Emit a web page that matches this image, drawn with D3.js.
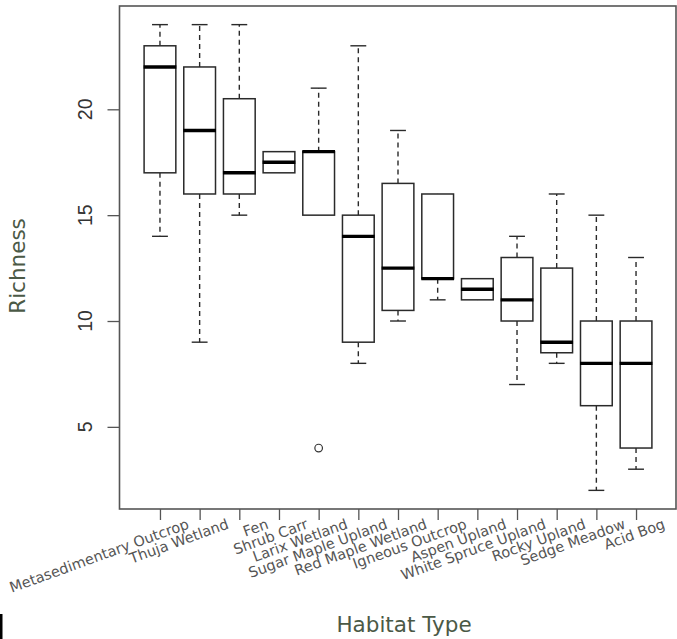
<!DOCTYPE html>
<html>
<head>
<meta charset="utf-8">
<script src="https://d3js.org/d3.v7.min.js"></script>
<style>
  html, body { margin: 0; padding: 0; background: #fff; }
  svg { display: block; }
</style>
</head>
<body>
<svg id="chart" width="677" height="639"></svg>
<script>
// ---- data ----
const categories = ["Metasedimentary Outcrop", "Thuja Wetland", "Fen", "Shrub Carr", "Larix Wetland",
  "Sugar Maple Upland", "Red Maple Wetland", "Igneous Outcrop", "Aspen Upland",
  "White Spruce Upland", "Rocky Upland", "Sedge Meadow", "Acid Bog"];
const whiskerLow  = [14, 9, 15, 17, 15, 8, 10, 11, 11, 7, 8, 2, 3];
const q1          = [17, 16, 16, 17, 15, 9, 10.5, 12, 11, 10, 8.5, 6, 4];
const medians     = [22, 19, 17, 17.5, 18, 14, 12.5, 12, 11.5, 11, 9, 8, 8];
const q3          = [23, 22, 20.5, 18, 18, 15, 16.5, 16, 12, 13, 12.5, 10, 10];
const whiskerHigh = [24, 24, 24, 18, 21, 23, 19, 16, 12, 14, 16, 15, 13];
const outliers    = [[], [], [], [], [4], [], [], [], [], [], [], [], []];
const yTicks = [5, 10, 15, 20];
const xTitle = "Habitat Type";
const yTitle = "Richness";

// ---- layout ----
const svg = d3.select("#chart");
const pLeft = 119.5, pRight = 676, pTop = 6, pBottom = 509;
const x = d3.scaleLinear().domain([-0.02, 14.02]).range([pLeft, 676.5]);
const y = d3.scaleLinear().domain([1.12, 24.88]).range([pBottom, pTop]);
const unit = x(2) - x(1);
const boxW = unit * 0.8;
const stapleW = boxW * 0.5;
const titleColor = "#4b5946";

const rows = categories.map((c, i) => ({
  name: c, pos: i + 1, lo: whiskerLow[i], q1: q1[i], med: medians[i],
  q3: q3[i], hi: whiskerHigh[i], out: outliers[i]
}));

const g = svg.append("g");

// whiskers (dashed)
g.selectAll(".wh-up").data(rows).join("line")
  .attr("x1", d => x(d.pos)).attr("x2", d => x(d.pos))
  .attr("y1", d => y(d.q3)).attr("y2", d => y(d.hi))
  .attr("stroke", "#2a2a2a").attr("stroke-width", 1.4).attr("stroke-dasharray", "5,4");
g.selectAll(".wh-lo").data(rows).join("line")
  .attr("x1", d => x(d.pos)).attr("x2", d => x(d.pos))
  .attr("y1", d => y(d.q1)).attr("y2", d => y(d.lo))
  .attr("stroke", "#2a2a2a").attr("stroke-width", 1.4).attr("stroke-dasharray", "5,4");

// staples
["hi", "lo"].forEach(k => {
  g.selectAll(".st-" + k).data(rows.filter(d => k === "hi" ? d.hi > d.q3 : d.lo < d.q1)).join("line")
    .attr("x1", d => x(d.pos) - stapleW / 2).attr("x2", d => x(d.pos) + stapleW / 2)
    .attr("y1", d => y(d[k])).attr("y2", d => y(d[k]))
    .attr("stroke", "#2a2a2a").attr("stroke-width", 1.4);
});

// boxes
g.selectAll(".box").data(rows).join("rect")
  .attr("x", d => x(d.pos) - boxW / 2).attr("width", boxW)
  .attr("y", d => y(d.q3)).attr("height", d => y(d.q1) - y(d.q3))
  .attr("fill", "#fff").attr("stroke", "#2a2a2a").attr("stroke-width", 1.5);

// medians
g.selectAll(".med").data(rows).join("line")
  .attr("x1", d => x(d.pos) - boxW / 2 - 0.5).attr("x2", d => x(d.pos) + boxW / 2 + 0.5)
  .attr("y1", d => y(d.med)).attr("y2", d => y(d.med))
  .attr("stroke", "#000").attr("stroke-width", 3.4);

// outliers
const outPts = rows.flatMap(d => d.out.map(v => ({ pos: d.pos, v })));
g.selectAll(".out").data(outPts).join("circle")
  .attr("cx", d => x(d.pos)).attr("cy", d => y(d.v)).attr("r", 3.8)
  .attr("fill", "none").attr("stroke", "#333").attr("stroke-width", 1.2);

// frame
svg.append("rect").attr("x", pLeft).attr("y", pTop)
  .attr("width", pRight - pLeft).attr("height", pBottom - pTop)
  .attr("fill", "none").attr("stroke", "#555").attr("stroke-width", 1.6);

// y axis
const yAxis = svg.append("g").attr("transform", `translate(${pLeft},0)`)
  .call(d3.axisLeft(y).tickValues(yTicks).tickSize(12).tickFormat(""));
yAxis.select(".domain").remove();
yAxis.selectAll("line").attr("stroke", "#555").attr("stroke-width", 1.3);
svg.selectAll(".ytl").data(yTicks).join("text")
  .attr("x", 92).attr("y", d => y(d))
  .attr("transform", d => `rotate(-90,92,${y(d)})`)
  .attr("text-anchor", "middle")
  .attr("font-family", "Liberation Sans, Arial, sans-serif")
  .attr("font-size", 19.5).attr("fill", "#333")
  .text(d => d);

// x axis ticks
const xAxis = svg.append("g").attr("transform", `translate(0,${pBottom})`)
  .call(d3.axisBottom(x).tickValues(rows.map(d => d.pos)).tickSize(11).tickFormat(""));
xAxis.select(".domain").remove();
xAxis.selectAll("line").attr("stroke", "#555").attr("stroke-width", 1.3);

// x labels (rotated)
svg.selectAll(".xtl").data(rows).join("text")
  .attr("transform", d => `translate(${x(d.pos) + 30},528) rotate(-20)`)
  .attr("text-anchor", "end")
  .attr("font-family", "DejaVu Sans, Verdana, sans-serif")
  .attr("font-size", 14.5).attr("fill", "#555")
  .text(d => d.name);

// titles
svg.append("text").attr("x", 404).attr("y", 632)
  .attr("text-anchor", "middle")
  .attr("font-family", "DejaVu Sans, Verdana, sans-serif")
  .attr("font-size", 21.5).attr("fill", titleColor).text(xTitle);
svg.append("text").attr("transform", `translate(25,266) rotate(-90)`)
  .attr("text-anchor", "middle")
  .attr("font-family", "DejaVu Sans, Verdana, sans-serif")
  .attr("font-size", 21.5).attr("fill", titleColor).text(yTitle);

// edge artifact at bottom-left
svg.append("rect").attr("x", 0).attr("y", 614).attr("width", 2.5).attr("height", 25).attr("fill", "#000");
</script>
</body>
</html>
